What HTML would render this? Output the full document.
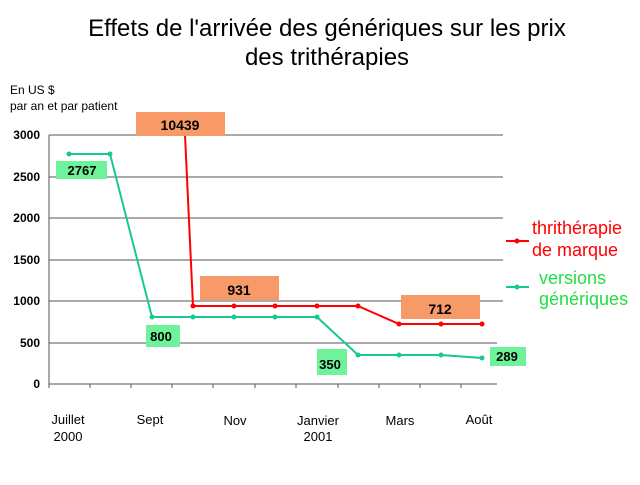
<!DOCTYPE html><html><head><style>body{margin:0;background:#fff}svg{font-family:"Liberation Sans",Arial,sans-serif}</style></head><body>
<svg width="640" height="480" xmlns="http://www.w3.org/2000/svg">
<text x="327" y="36" font-size="24" text-anchor="middle">Effets de l'arrivée des génériques sur les prix</text>
<text x="327" y="65" font-size="24" text-anchor="middle">des trithérapies</text>
<text x="10" y="94" font-size="12">En US $</text>
<text x="10" y="110" font-size="12">par an et par patient</text>
<g stroke="#555" stroke-width="1">
<line x1="49" y1="135" x2="503" y2="135"/><line x1="49" y1="177" x2="503" y2="177"/><line x1="49" y1="218" x2="503" y2="218"/><line x1="49" y1="260" x2="503" y2="260"/><line x1="49" y1="301" x2="503" y2="301"/><line x1="49" y1="343" x2="497" y2="343"/>
<line x1="49" y1="135" x2="49" y2="384"/><line x1="49" y1="384" x2="497" y2="384"/>
<path d="M49 384v4M90 384v4M131 384v4M172 384v4M213 384v4M255 384v4M296 384v4M338 384v4M379 384v4M420 384v4M461 384v4"/>
</g>
<g font-size="12" font-weight="bold" text-anchor="end">
<text x="40" y="139">3000</text><text x="40" y="181">2500</text><text x="40" y="222">2000</text><text x="40" y="264">1500</text><text x="40" y="305">1000</text><text x="40" y="347">500</text><text x="40" y="388">0</text></g>
<g font-size="13" text-anchor="middle">
<text x="68" y="424">Juillet</text><text x="68" y="441">2000</text><text x="150" y="424">Sept</text><text x="235" y="425">Nov</text><text x="318" y="425">Janvier</text><text x="318" y="441">2001</text><text x="400" y="425">Mars</text><text x="479" y="424">Août</text></g>
<polyline fill="none" stroke="#17c98f" stroke-width="2" points="69,154 110,154 152,317 193,317 234,317 275,317 317,317 358,355 399,355 441,355 482,358"/>
<g fill="#17c98f"><circle cx="69" cy="154" r="2.5"/><circle cx="110" cy="154" r="2.5"/><circle cx="152" cy="317" r="2.5"/><circle cx="193" cy="317" r="2.5"/><circle cx="234" cy="317" r="2.5"/><circle cx="275" cy="317" r="2.5"/><circle cx="317" cy="317" r="2.5"/><circle cx="358" cy="355" r="2.5"/><circle cx="399" cy="355" r="2.5"/><circle cx="441" cy="355" r="2.5"/><circle cx="482" cy="358" r="2.5"/></g>
<polyline fill="none" stroke="#f00" stroke-width="2" points="185,135 193,306 234,306 275,306 317,306 358,306 399,324 441,324 482,324"/>
<g fill="#f00"><circle cx="193" cy="306" r="2.5"/><circle cx="234" cy="306" r="2.5"/><circle cx="275" cy="306" r="2.5"/><circle cx="317" cy="306" r="2.5"/><circle cx="358" cy="306" r="2.5"/><circle cx="399" cy="324" r="2.5"/><circle cx="441" cy="324" r="2.5"/><circle cx="482" cy="324" r="2.5"/></g>
<g fill="#f79a68"><rect x="136" y="112" width="89" height="24"/><rect x="200" y="276" width="79" height="24"/><rect x="401" y="295" width="79" height="24"/></g>
<g fill="#6ef29a"><rect x="56" y="161" width="51" height="18"/><rect x="146" y="325" width="34" height="22"/><rect x="317" y="349" width="30" height="26"/><rect x="490" y="347" width="36" height="19"/></g>
<g font-size="14" font-weight="bold" text-anchor="middle">
<text x="180" y="130">10439</text><text x="239" y="295">931</text><text x="440" y="314">712</text></g>
<g font-size="13" font-weight="bold" text-anchor="middle">
<text x="82" y="175">2767</text><text x="161" y="341">800</text><text x="330" y="369">350</text><text x="507" y="361">289</text></g>
<line x1="506" y1="241" x2="529" y2="241" stroke="#f00" stroke-width="2"/><circle cx="517" cy="241" r="2.5" fill="#f00"/>
<text x="532" y="234" font-size="18" fill="#f00">thrithérapie</text><text x="532" y="256" font-size="18" fill="#f00">de marque</text>
<line x1="506" y1="287" x2="529" y2="287" stroke="#17c98f" stroke-width="2"/><circle cx="517" cy="287" r="2.5" fill="#17c98f"/>
<text x="539" y="284" font-size="18" fill="#22dd44">versions</text><text x="539" y="305" font-size="18" fill="#22dd44">génériques</text>
</svg></body></html>
